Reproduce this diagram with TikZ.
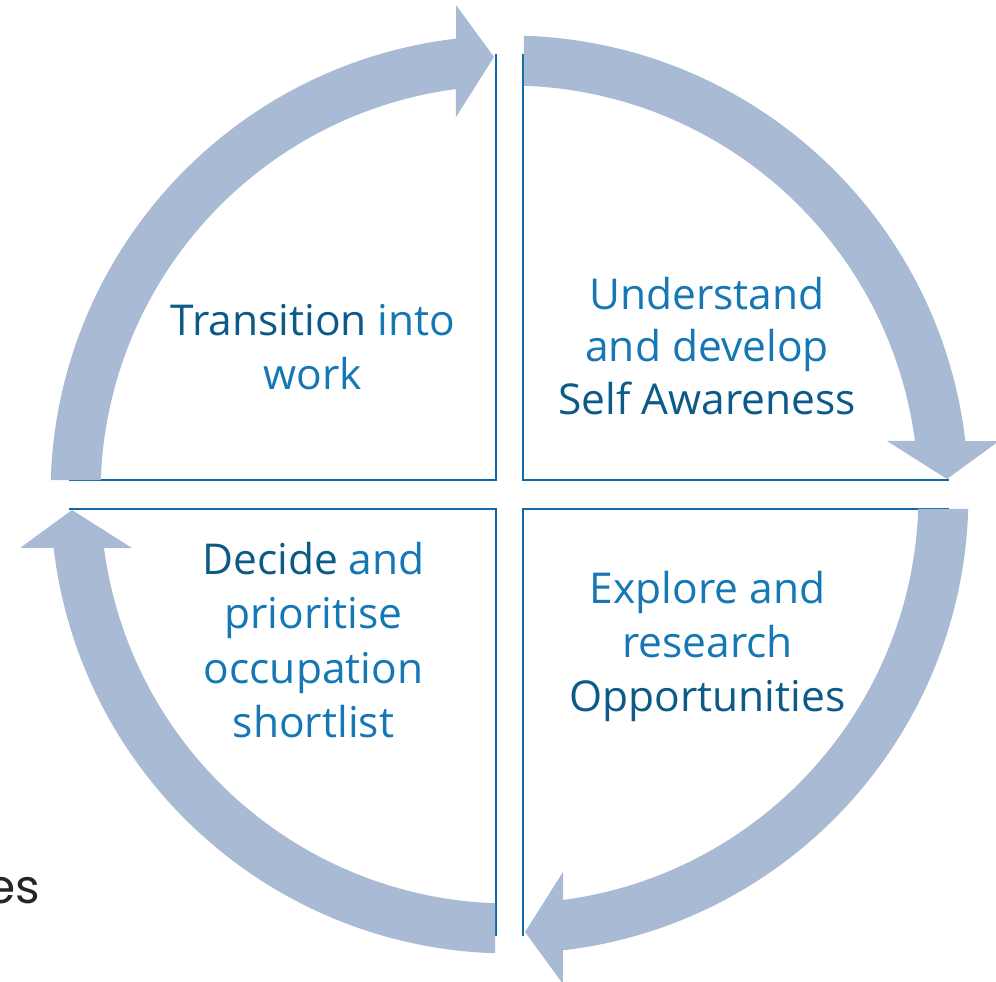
\documentclass[tikz,border=0pt]{standalone}
\usepackage{fontspec}
\setmainfont{Open Sans}
\newfontfamily\esfont{Poppins}
\definecolor{arrowblue}{HTML}{A9BBD4}
\definecolor{boxline}{HTML}{0E6BA8}
\definecolor{darktxt}{HTML}{0B5A87}
\definecolor{lighttxt}{HTML}{1577B4}
\definecolor{estxt}{HTML}{262626}
\begin{document}
\begin{tikzpicture}[x=1pt,y=1pt,
  arrowfill/.style={fill=arrowblue, draw=none},
  quadline/.style={draw=boxline, line width=2.6pt, line cap=rect},
  lbl/.style={font=\fontsize{42.5}{54}\selectfont, anchor=base, inner sep=0pt, text=lighttxt},
  dk/.style={text=darktxt}]
\useasboundingbox (-509.5,-487.5) rectangle (486.5,494.5);
\coordinate (c) at (0,0);
% quadrant outlines
\coordinate (tlA) at (-13.5,439.5); \coordinate (tlC) at (-13.5,14.5); \coordinate (tlB) at (-439.5,14.5);
\coordinate (trA) at (13.5,439.5); \coordinate (trC) at (13.5,14.5); \coordinate (trB) at (438.5,14.5);
\coordinate (blA) at (-439.5,-14.5); \coordinate (blC) at (-13.5,-14.5); \coordinate (blB) at (-13.5,-440.5);
\coordinate (brA) at (438.5,-14.5); \coordinate (brC) at (13.5,-14.5); \coordinate (brB) at (13.5,-440.5);
\draw[quadline] (tlA) -- (tlC) -- (tlB);
\draw[quadline] (trA) -- (trC) -- (trB);
\draw[quadline] (blA) -- (blC) -- (blB);
\draw[quadline] (brA) -- (brC) -- (brB);
% circular arrows
\foreach \r in {0,-90,-180,-270}{
  \begin{scope}[rotate=\r]
  \path[arrowfill] (178.19:459) arc[start angle=178.19, end angle=96.69, radius=459]
     -- (-53.5,489.5) -- (-15.5,437.5) -- (-53.5,377.5)
     -- (97.52:409) arc[start angle=97.52, end angle=177.97, radius=409] -- cycle;
  \end{scope}
}
% texts
\node[lbl] (tl1) at (-196.5,158.5) {\textcolor{darktxt}{Transition} into};
\node[lbl] (tl2) at (-196.5,104.5) {work};
\node[lbl] (tr1) at (197.5,184.5) {Understand};
\node[lbl] (tr2) at (197.5,132.5) {and develop};
\node[lbl,dk] (tr3) at (197.5,79.5) {Self Awareness};
\node[lbl] (bl1) at (-196,-80.5) {\textcolor{darktxt}{Decide} and};
\node[lbl] (bl2) at (-196,-133.5) {prioritise};
\node[lbl] (bl3) at (-196,-188.5) {occupation};
\node[lbl] (bl4) at (-196,-242.5) {shortlist};
\node[lbl] (br1) at (198,-108.5) {Explore and};
\node[lbl] (br2) at (198,-162.5) {research};
\node[lbl,dk] (br3) at (198,-216.5) {Opportunities};
\node[font=\esfont\fontsize{47}{56}\selectfont, text=estxt, anchor=base east, inner sep=0pt] (es) at (-469.5,-408.5) {es};
\end{tikzpicture}
\end{document}
